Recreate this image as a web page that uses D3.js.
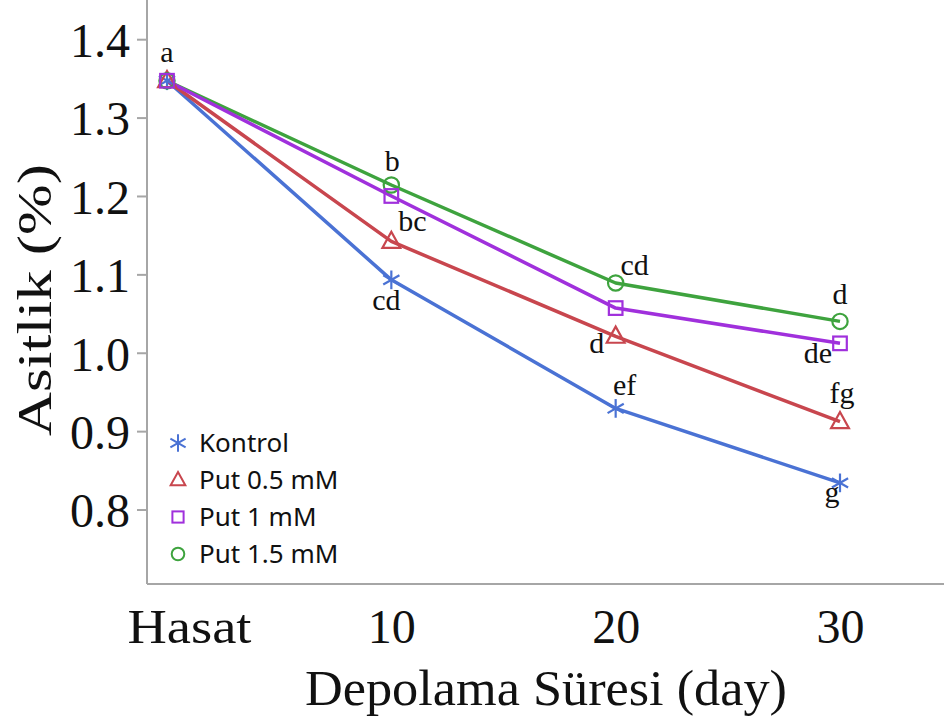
<!DOCTYPE html>
<html>
<head>
<meta charset="utf-8">
<script src="https://cdn.jsdelivr.net/npm/d3@7"></script>
<style>
  html, body { margin: 0; padding: 0; background: #fff; }
  svg { display: block; }
</style>
</head>
<body>
<svg id="chart" width="944" height="721"></svg>
<script>
// ---- data ----
const categories = ["Hasat", "10", "20", "30"];
const seriesNames = ["Kontrol", "Put 0.5 mM", "Put 1 mM", "Put 1.5 mM"];
const kontrol = [1.347, 1.093, 0.929, 0.834];
const put05   = [1.347, 1.142, 1.021, 0.912];
const put1    = [1.347, 1.200, 1.057, 1.012];
const put15   = [1.347, 1.214, 1.089, 1.040];
const lettersKontrol = ["", "cd", "ef", "g"];
const lettersPut05   = ["", "bc", "d", "fg"];
const lettersPut1    = ["", "", "", "de"];
const lettersPut15   = ["a", "b", "cd", "d"];
const yTicks = [0.8, 0.9, 1.0, 1.1, 1.2, 1.3, 1.4];

// ---- layout / style ----
const colors = ["#4a72d4", "#c8464e", "#a030dc", "#3ea33e"];
const symbols = ["asterisk", "triangle", "square", "circle"];
const labelOffsets = [
  [[0, 0], [-5, 30], [9, -13], [-8, 19]],
  [[0, 0], [21, -10], [-19, 17], [2, -19]],
  [[0, 0], [0, 0], [0, 0], [-22, 20]],
  [[0, -19], [1, -14], [19, -8], [0, -17]]
];

const series = [
  { name: seriesNames[0], values: kontrol, letters: lettersKontrol },
  { name: seriesNames[1], values: put05, letters: lettersPut05 },
  { name: seriesNames[2], values: put1, letters: lettersPut1 },
  { name: seriesNames[3], values: put15, letters: lettersPut15 }
];
series.forEach((s, i) => { s.color = colors[i]; s.symbol = symbols[i]; s.idx = i; });

const svg = d3.select("#chart");
const axisX0 = 147, axisY0 = 584;
const x = d3.scalePoint().domain(categories).range([167, 840]);
const y = d3.scaleLinear().domain([0.705, 1.45]).range([axisY0, 0]);

const serif = "'Liberation Serif', 'Times New Roman', serif";
const sans = "'Noto Sans', 'Open Sans', sans-serif";
const axisColor = "#a6a6a6";

// y axis
const gy = svg.append("g").attr("transform", `translate(${axisX0},0)`)
  .call(d3.axisLeft(y).tickValues(yTicks).tickFormat(d3.format(".1f")).tickSize(10).tickSizeOuter(0));
gy.select(".domain").remove();
gy.selectAll(".tick line").attr("stroke", axisColor).attr("stroke-width", 2);
gy.selectAll(".tick text").attr("font-family", serif).attr("font-size", 48)
  .attr("fill", "#111").attr("x", -17).attr("dy", "0.36em");

// x axis (labels only)
const gx = svg.append("g").attr("transform", `translate(0,${axisY0})`)
  .call(d3.axisBottom(x).tickSize(0));
gx.select(".domain").remove();
gx.selectAll(".tick text").attr("font-family", serif).attr("font-size", 48)
  .attr("fill", "#111").attr("y", 59).attr("dy", 0)
  .attr("dx", d => d === "Hasat" ? 22 : 0)
  .attr("textLength", d => d === "Hasat" ? 124 : null)
  .attr("lengthAdjust", "spacingAndGlyphs");

// axis lines
svg.append("line").attr("x1", axisX0).attr("x2", axisX0).attr("y1", 0).attr("y2", axisY0)
  .attr("stroke", axisColor).attr("stroke-width", 2);
svg.append("line").attr("x1", axisX0).attr("x2", 944).attr("y1", axisY0).attr("y2", axisY0)
  .attr("stroke", axisColor).attr("stroke-width", 2);

// titles
svg.append("text").attr("x", 546).attr("y", 705).attr("text-anchor", "middle")
  .attr("font-family", serif).attr("font-size", 51).attr("fill", "#111")
  .attr("textLength", 482).attr("lengthAdjust", "spacingAndGlyphs")
  .text("Depolama Süresi (day)");
svg.append("text").attr("transform", "translate(51,300) rotate(-90)").attr("text-anchor", "middle")
  .attr("font-family", serif).attr("font-size", 49).attr("fill", "#111")
  .attr("textLength", 272).attr("lengthAdjust", "spacingAndGlyphs")
  .text("Asitlik (%)");

// marker drawer
function drawMarker(g, type, color, size, sw) {
  if (type === "asterisk") {
    const r = size * 0.55;
    for (let k = 0; k < 3; k++) {
      const a = Math.PI / 2 + k * Math.PI / 3;
      g.append("line").attr("x1", -r * Math.cos(a)).attr("y1", -r * Math.sin(a))
        .attr("x2", r * Math.cos(a)).attr("y2", r * Math.sin(a))
        .attr("stroke", color).attr("stroke-width", sw);
    }
  } else if (type === "triangle") {
    const h = size * 0.95, w = size * 1.05;
    g.append("path").attr("d", `M0,${-h * 0.6}L${w / 2},${h * 0.4}L${-w / 2},${h * 0.4}Z`)
      .attr("fill", "none").attr("stroke", color).attr("stroke-width", sw);
  } else if (type === "square") {
    const s = size * 0.8;
    g.append("rect").attr("x", -s / 2).attr("y", -s / 2).attr("width", s).attr("height", s)
      .attr("fill", "none").attr("stroke", color).attr("stroke-width", sw);
  } else {
    g.append("circle").attr("r", size * 0.45)
      .attr("fill", "none").attr("stroke", color).attr("stroke-width", sw);
  }
}

const line = d3.line().x((d, i) => x(categories[i])).y(d => y(d));
const drawOrder = [0, 1, 3, 2];
drawOrder.forEach(i => {
  const s = series[i];
  svg.append("path").datum(s.values).attr("d", line)
    .attr("fill", "none").attr("stroke", s.color).attr("stroke-width", 3.5)
    .attr("stroke-linejoin", "round");
});
drawOrder.forEach(i => {
  const s = series[i];
  s.values.forEach((v, j) => {
    const g = svg.append("g").attr("transform", `translate(${x(categories[j])},${y(v)})`);
    drawMarker(g, s.symbol, s.color, 17, 2.2);
  });
});

// letters
series.forEach((s, i) => {
  s.letters.forEach((t, j) => {
    if (!t) return;
    const off = labelOffsets[i][j];
    svg.append("text").attr("x", x(categories[j]) + off[0]).attr("y", y(s.values[j]) + off[1])
      .attr("text-anchor", "middle").attr("font-family", serif).attr("font-size", 30)
      .attr("fill", "#111").text(t);
  });
});

// legend
const legendRows = [443, 480, 517, 554];
series.forEach((s, i) => {
  const g = svg.append("g").attr("transform", `translate(178,${legendRows[i]})`);
  drawMarker(g, s.symbol, s.color, i === 0 ? 16 : 14, 2);
  svg.append("text").attr("x", 199).attr("y", legendRows[i]).attr("dy", "0.35em")
    .attr("font-family", sans).attr("font-size", 26).attr("fill", "#111").text(s.name);
});
</script>
</body>
</html>
